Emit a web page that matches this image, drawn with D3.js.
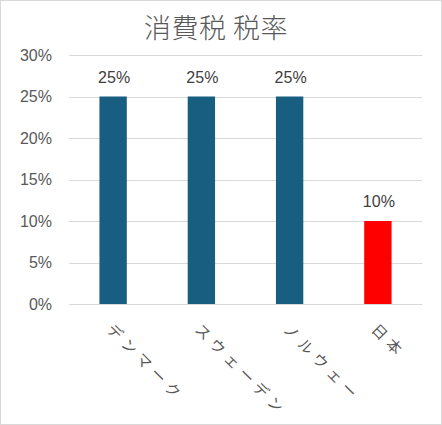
<!DOCTYPE html>
<html>
<head>
  <meta charset="UTF-8">
  <title></title>
  <script src="https://cdn.jsdelivr.net/npm/d3@7"></script>
  <style>
    body { margin: 0; background: #fff; }
    text { font-family: "Noto Sans CJK JP", "Liberation Sans", sans-serif; }
  </style>
</head>
<body>
<div id="chart"></div>
<script>
  var countries = ['デンマーク', 'スウェーデン', 'ノルウェー', '日本'];
  var rates = [0.25, 0.25, 0.25, 0.10];
  var barColors = ['#175e81', '#175e81', '#175e81', '#ff0000'];
  var yTicks = [0, 0.05, 0.10, 0.15, 0.20, 0.25, 0.30];

  var w = 442, h = 425;
  var m = {left: 69, right: 20, top: 55, bottom: 121};

  var svg = d3.select('#chart').append('svg')
      .attr('width', w)
      .attr('height', h);

  svg.append('rect')
      .attr('x', 0.5).attr('y', 0.5)
      .attr('width', w - 1).attr('height', h - 1)
      .attr('fill', '#fff')
      .attr('stroke', '#d9d9d9');

  var x = d3.scaleBand()
      .domain(countries)
      .range([m.left, w - m.right])
      .paddingInner(0.69)
      .paddingOuter(0.345);

  var y = d3.scaleLinear()
      .domain([0, 0.3])
      .range([h - m.bottom, m.top]);

  svg.append('text')
      .attr('x', 216).attr('y', 38)
      .attr('text-anchor', 'middle')
      .attr('font-size', 27)
      .attr('font-weight', 300)
      .attr('letter-spacing', 0.5)
      .attr('fill', '#595959')
      .text('消費税 税率');

  // gridlines
  svg.append('g').selectAll('line')
      .data(yTicks)
      .enter().append('line')
      .attr('x1', m.left).attr('x2', w - m.right)
      .attr('y1', function(d){ return Math.round(y(d)) + 0.5; })
      .attr('y2', function(d){ return Math.round(y(d)) + 0.5; })
      .attr('stroke', '#d9d9d9')
      .attr('stroke-width', 1);

  var yAxis = d3.axisLeft(y)
      .tickValues(yTicks)
      .tickFormat(d3.format('.0%'))
      .tickSize(0)
      .tickPadding(17);

  svg.append('g')
      .attr('transform', 'translate(' + m.left + ',0)')
      .call(yAxis)
      .call(function(g){ g.select('.domain').remove(); })
      .selectAll('text')
      .style('font-family', '"Liberation Sans", Arial, sans-serif')
      .attr('font-size', 16)
      .attr('fill', '#595959');

  svg.append('g').selectAll('rect')
      .data(rates)
      .enter().append('rect')
      .attr('x', function(d, i){ return x(countries[i]); })
      .attr('y', function(d){ return y(d); })
      .attr('width', x.bandwidth())
      .attr('height', function(d){ return y(0) - y(d); })
      .attr('fill', function(d, i){ return barColors[i]; });

  // baseline drawn over bars
  svg.append('line')
      .attr('x1', m.left).attr('x2', w - m.right)
      .attr('y1', Math.round(y(0)) + 0.5).attr('y2', Math.round(y(0)) + 0.5)
      .attr('stroke', '#d9d9d9');

  svg.append('g').selectAll('text')
      .data(rates)
      .enter().append('text')
      .attr('x', function(d, i){ return x(countries[i]) + x.bandwidth() / 2 + 1; })
      .attr('y', function(d){ return y(d) - 14; })
      .attr('text-anchor', 'middle')
      .style('font-family', '"Liberation Sans", Arial, sans-serif')
      .attr('font-size', 16)
      .attr('fill', '#404040')
      .text(function(d){ return d3.format('.0%')(d); });

  // rotated category labels
  svg.append('g').selectAll('text')
      .data(countries)
      .enter().append('text')
      .attr('transform', function(d){
        var cx = x(d) + x.bandwidth() / 2 + 1;
        return 'translate(' + cx + ',' + 322 + ') rotate(45)';
      })
      .attr('dy', '0.8em')
      .attr('font-size', 15)
      .attr('letter-spacing', 5.5)
      .attr('fill', '#595959')
      .text(function(d){ return d; });
</script>
</body>
</html>
